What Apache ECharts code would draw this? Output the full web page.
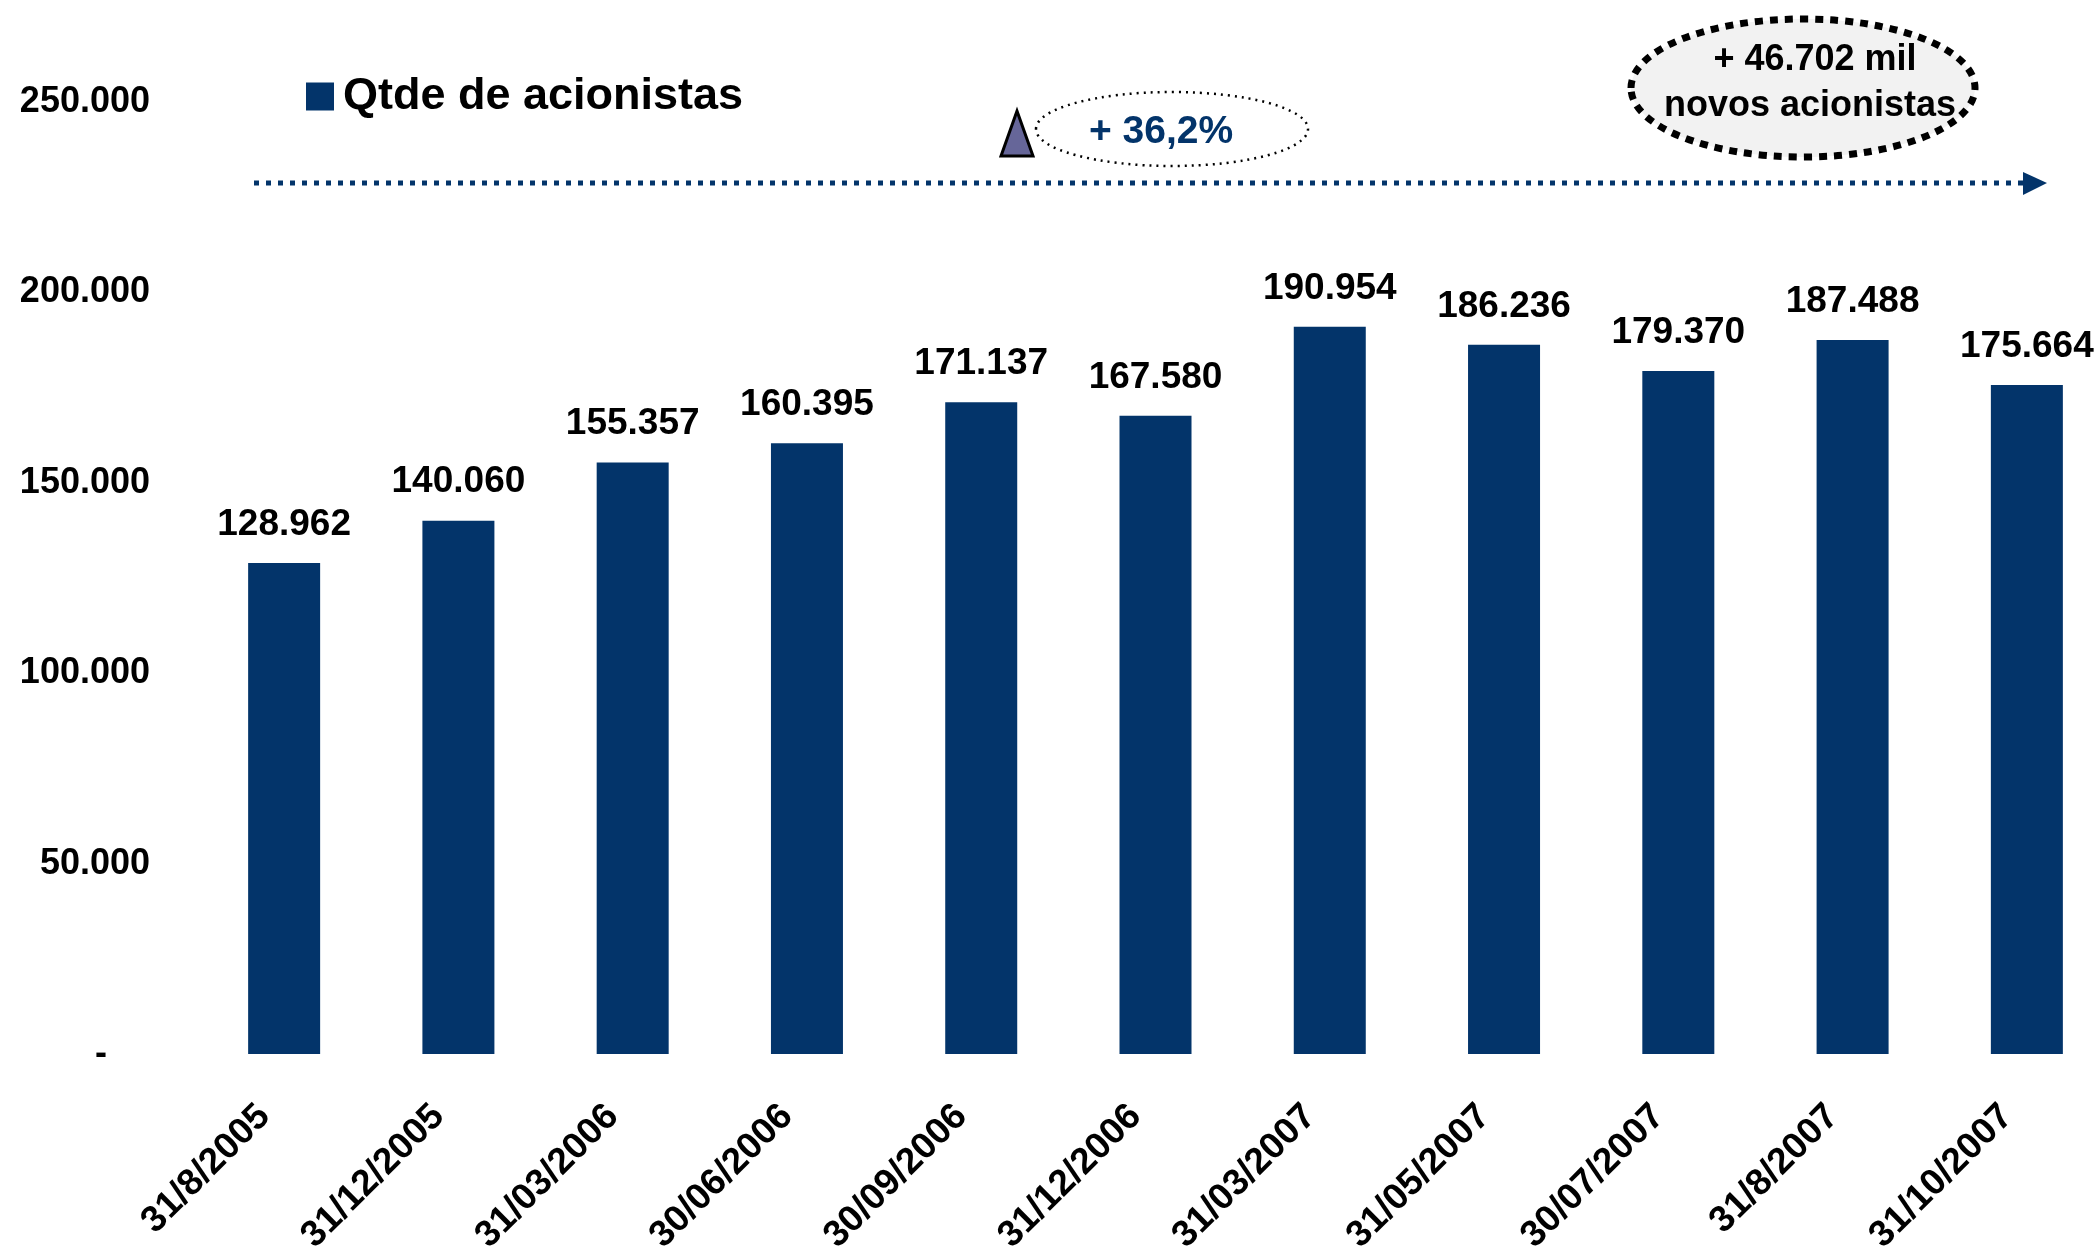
<!DOCTYPE html>
<html>
<head>
<meta charset="utf-8">
<script src="https://cdn.jsdelivr.net/npm/echarts@6/dist/echarts.min.js"></script>
<style>
  html, body { margin: 0; padding: 0; background: #fff; }
  #chart { width: 2100px; height: 1248px; }
</style>
</head>
<body>
<div id="chart"></div>
<script>
// dados
var datas = ['31/8/2005', '31/12/2005', '31/03/2006', '30/06/2006', '30/09/2006', '31/12/2006',
  '31/03/2007', '31/05/2007', '30/07/2007', '31/8/2007', '31/10/2007'];
var acionistas = [128962, 140060, 155357, 160395, 171137, 167580, 190954, 186236, 179370, 187488, 175664];
var yMax = 250000;
var yStep = 50000;

var fonte = '"Liberation Sans", Arial, sans-serif';
var azul = '#03346a';

// 128962 -> 128.962
function milhar(v) {
  return String(v).replace(/\B(?=(\d{3})+(?!\d))/g, '.');
}

var chart = echarts.init(document.getElementById('chart'));
chart.setOption({
  animation: false,
  backgroundColor: '#fff',
  textStyle: { fontFamily: fonte },
  grid: { left: 197, top: 102, width: 1917, height: 952, containLabel: false, outerBoundsMode: 'none' },
  legend: {
    left: 301, top: 69,
    icon: 'rect', itemWidth: 28, itemHeight: 28, itemGap: 10,
    textStyle: { fontSize: 45, fontWeight: 'bold', color: '#000', fontFamily: fonte, padding: [0, 0, 0, 4] },
    data: ['Qtde de acionistas']
  },
  xAxis: {
    type: 'category',
    data: datas,
    axisLine: { show: false },
    axisTick: { show: false },
    axisLabel: {
      rotate: 45, margin: 37, interval: 0, padding: [0, 28, 0, 0],
      fontSize: 37, fontWeight: 'bold', color: '#000', fontFamily: fonte
    }
  },
  yAxis: {
    type: 'value',
    min: 0, max: yMax, interval: yStep,
    splitLine: { show: false },
    axisLine: { show: false },
    axisTick: { show: false },
    axisLabel: {
      margin: 47,
      fontSize: 36, fontWeight: 'bold', color: '#000', fontFamily: fonte,
      formatter: function (v) { return v === 0 ? '{z|-}' : milhar(v); },
      rich: { z: { fontSize: 36, fontWeight: 'bold', color: '#000', fontFamily: fonte, padding: [0, 43, 0, 0] } }
    }
  },
  series: [{
    name: 'Qtde de acionistas',
    type: 'bar',
    data: acionistas,
    barWidth: 72,
    itemStyle: { color: azul },
    label: {
      show: true, position: 'top', distance: 20,
      fontSize: 37, fontWeight: 'bold', color: '#000', fontFamily: fonte,
      formatter: function (p) { return milhar(p.value); }
    }
  }],
  graphic: [
    // seta pontilhada
    {
      type: 'line', z: 10,
      shape: { x1: 254, y1: 183, x2: 2024, y2: 183 },
      style: { stroke: azul, lineWidth: 5, lineDash: [5, 7] }
    },
    {
      type: 'polygon', z: 10,
      shape: { points: [[2023, 172], [2047, 183], [2023, 195]] },
      style: { fill: azul }
    },
    // triangulo
    {
      type: 'polygon', z: 10,
      shape: { points: [[1017, 111], [1001, 156], [1033, 156]] },
      style: { fill: '#666699', stroke: '#000', lineWidth: 3, lineJoin: 'miter' }
    },
    // elipse + 36,2%
    {
      type: 'ellipse', z: 10,
      shape: { cx: 1172, cy: 129, rx: 136, ry: 37 },
      style: { fill: 'none', stroke: '#000', lineWidth: 2.5, lineDash: [2, 5] }
    },
    {
      type: 'text', z: 11, x: 1161, y: 132,
      style: { text: '+ 36,2%', fill: azul, font: 'bold 39px ' + fonte, align: 'center', verticalAlign: 'middle' }
    },
    // elipse novos acionistas
    {
      type: 'ellipse', z: 10,
      shape: { cx: 1803, cy: 88, rx: 172, ry: 69 },
      style: { fill: '#f2f2f2', stroke: '#000', lineWidth: 7, lineDash: [8, 7] }
    },
    {
      type: 'text', z: 11, x: 1815, y: 60,
      style: { text: '+ 46.702 mil', fill: '#000', font: 'bold 36px ' + fonte, align: 'center', verticalAlign: 'middle' }
    },
    {
      type: 'text', z: 11, x: 1810, y: 106,
      style: { text: 'novos acionistas', fill: '#000', font: 'bold 36px ' + fonte, align: 'center', verticalAlign: 'middle' }
    }
  ]
});
</script>
</body>
</html>
